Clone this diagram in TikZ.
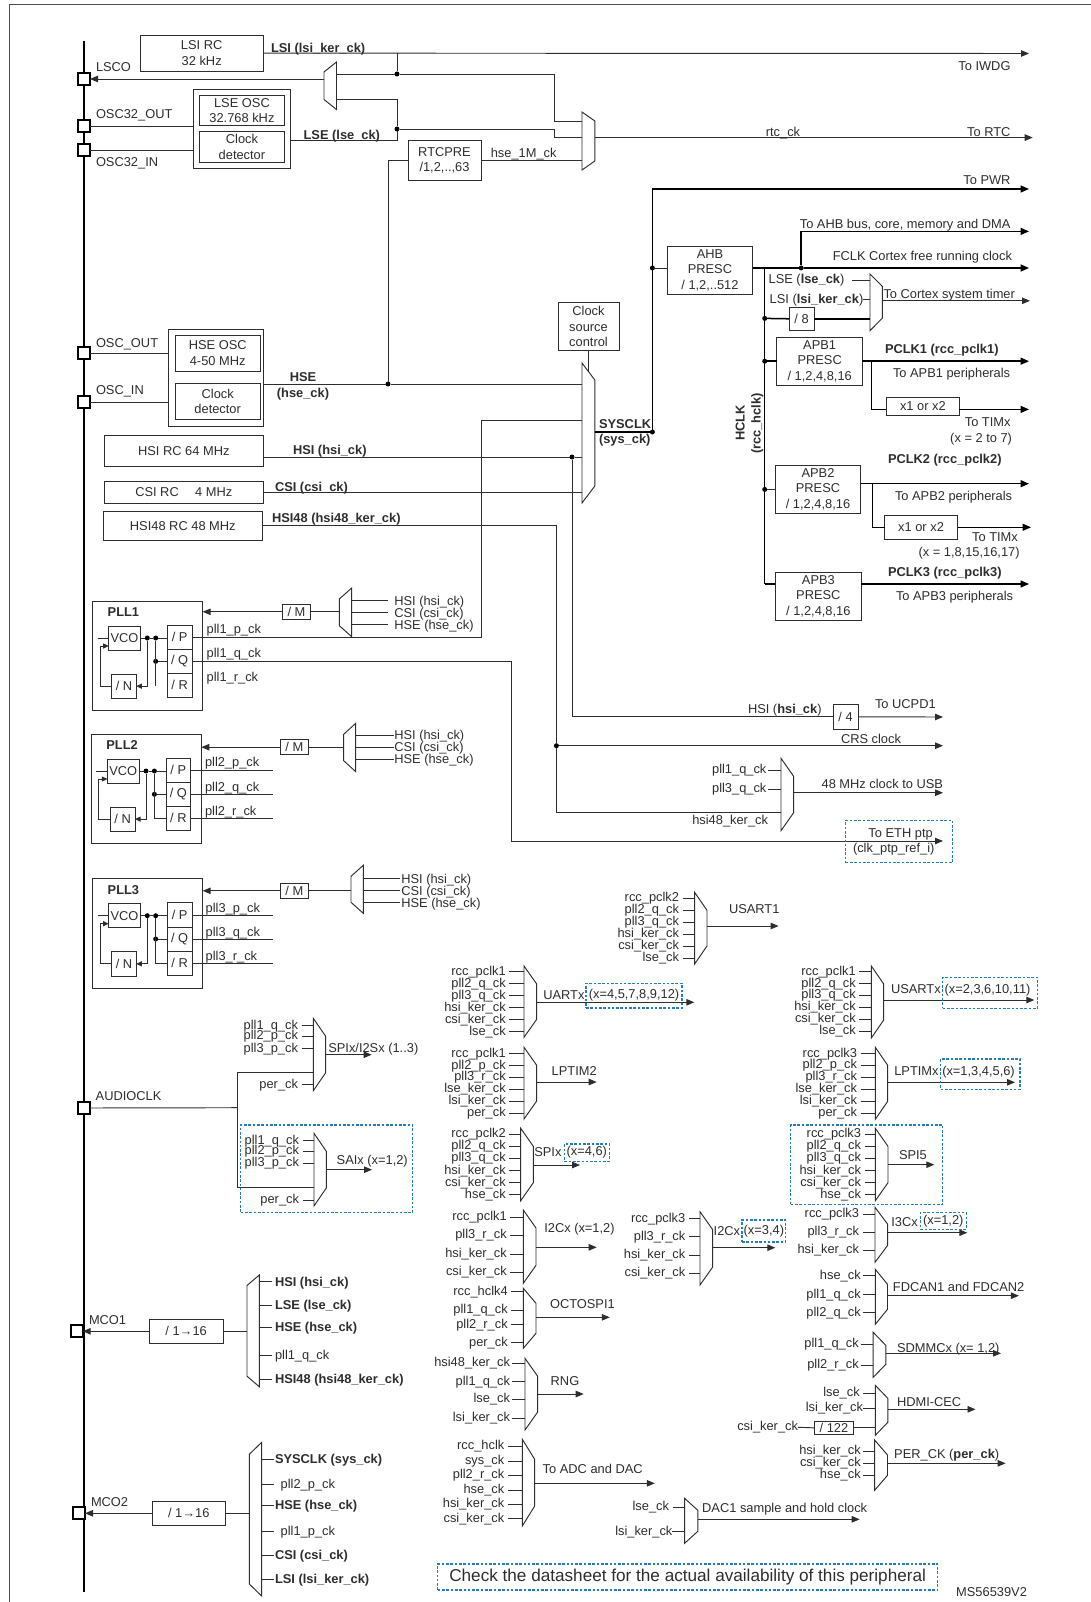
\documentclass[tikz,border=0pt]{standalone}
\usepackage{fontspec}
\setmainfont{Liberation Sans}
\usetikzlibrary{arrows.meta,calc}
\AtBeginDocument{\catcode`\_=12 }
\definecolor{ink}{RGB}{45,45,45}
\definecolor{stblue}{RGB}{35,125,190}
\newcommand\fs{\fontsize{12.85}{15.5}\selectfont}
\newcounter{lbn}
\tikzset{
  ln/.style={draw=ink,line width=0.95pt,line join=miter},
  thk/.style={draw=black,line width=1.5pt},
  arr/.style={ln,-{Triangle[length=8pt,width=6.5pt]}},
  thkarr/.style={thk,-{Triangle[length=8.5pt,width=7pt]}},
  smallarr/.style={ln,-{Triangle[length=5.5pt,width=5pt]}},
  boxn/.style={draw=ink,line width=0.95pt,inner sep=0pt,outer sep=0pt,align=center,font=\fs,text=ink},
  dashbox/.style={draw=stblue,line width=1.25pt,dash pattern=on 2.6pt off 1.7pt,inner sep=0pt,outer sep=0pt,align=center,font=\fs,text=ink},
  lbl/.style={inner sep=0pt,outer sep=0pt,font=\fs,text=ink,text height=9.5pt,text depth=2.5pt},
  pinbox/.style={draw=black,line width=1.7pt,fill=white,inner sep=0pt,outer sep=0pt,minimum size=12pt},
  dot/.style={circle,fill=black,inner sep=0pt,outer sep=0pt,minimum size=5pt},
}
\newcommand\bx[6]{\pgfmathsetmacro\bw{#4-#2}\pgfmathsetmacro\bh{#5-#3}%
  \node[boxn,minimum width=\bw pt,minimum height=\bh pt,anchor=north west] (#1) at (#2,#3) {#6};}
\newcommand\dbx[6]{\pgfmathsetmacro\bw{#4-#2}\pgfmathsetmacro\bh{#5-#3}%
  \node[dashbox,minimum width=\bw pt,minimum height=\bh pt,anchor=north west] (#1) at (#2,#3) {#6};}
\newcommand\lb[4]{\stepcounter{lbn}\node[lbl,anchor=#3,yshift=-1pt] (t\arabic{lbn}) at (#1,#2) {#4};}
\newcommand\blb[4]{\lb{#1}{#2}{#3}{\bfseries #4}}
\newcommand\mux[7]{\pgfmathsetmacro\mw{#3-#2}\pgfmathsetmacro\mh{#5-#4}%
  \node[inner sep=0pt,outer sep=0pt,minimum width=\mw pt,minimum height=\mh pt,anchor=north west] (#1) at (#2,#4) {};
  \draw[ln] (#2,{#4+#6}) -- (#3,{#4+#7}) -- (#3,{#5-#7}) -- (#2,{#5-#6}) -- cycle;}
% inputs on the west side: mux, right end of text, gap, list y/text
\newcommand\inputs[4]{\foreach \yy/\txt [count=\ii] in {#4}{%
  \node[lbl,anchor=east] (#1i\ii) at (#2,\yy) {\txt};
  \draw[ln] ([xshift=#3pt]#1i\ii.east) -- (#1.west |- #1i\ii.east);}}
% inputs on the east side: mux, left of text, gap, list y/text
\newcommand\rinputs[4]{\foreach \yy/\txt [count=\ii] in {#4}{%
  \coordinate (#1c\ii) at (#2,\yy);
  \node[lbl,anchor=west,yshift=-1pt] (#1i\ii) at (#1c\ii) {\txt};
  \draw[ln] (#1.east |- #1c\ii) -- ([xshift=-#3pt]#1c\ii);}}
\newcommand\outp[3]{\coordinate (#1e) at (#3,#2); \draw[arr] (#1.east |- #1e) -- (#1e);}
\newcommand\pllblock[5]{%
\begin{scope}[shift={(#2,#3)}]
  \bx{#1b}{92.7}{601}{202.7}{710.7}{}
  \blb{107.7}{612}{west}{#4}
  \bx{#1v}{108.7}{626}{140.3}{650}{VCO}
  \bx{#1P}{167.3}{625}{192}{649.3}{/ P}
  \bx{#1Q}{167.3}{649.3}{192}{673.3}{/ Q}
  \bx{#1R}{167.3}{673.3}{192}{697.3}{/ R}
  \bx{#1N}{111.7}{674}{136.3}{698.3}{/ N}
  \node[dot] (#1d1) at (147.3,638) {};
  \node[dot] (#1d2) at (155.7,638) {};
  \node[dot] (#1d3) at (155.7,661.3) {};
  \coordinate (#1s) at (97.7,638);
  \coordinate (#1f) at (100,646);
  \draw[ln] (#1s) -- (#1s -| #1v.west);
  \draw[ln] (#1d1 -| #1v.east) -- (#1d1) -- (#1d2) -- (#1d2 -| #1P.west);
  \draw[smallarr] (#1d1) |- (#1N.east);
  \draw[smallarr] (#1N.west) -| (#1f) -- (#1f -| #1v.west);
  \draw[ln] (#1d3) -- (#1Q.west);
  #5
\end{scope}}
\begin{document}
\begin{tikzpicture}[x=1pt,y=-1pt]
\useasboundingbox (0,0) rectangle (1091,1602);
% frame and pad bus
\coordinate (fa) at (9.3,1602); \coordinate (fb) at (9.3,4.5); \coordinate (fc) at (1091,4.5);
\draw[draw=ink!85,line width=1.2pt] (fa) -- (fb) -- (fc);
\coordinate (busa) at (84.3,41); \coordinate (busb) at (84.3,1592);
\draw[draw=black,line width=1.8pt] (busa) -- (busb);
% pads
\node[pinbox] (pLSCO) at (84,79) {};
\node[pinbox] (pO32O) at (84,126) {};
\node[pinbox] (pO32I) at (84,150) {};
\node[pinbox] (pOO) at (84,353.3) {};
\node[pinbox] (pOI) at (84,402) {};
\node[pinbox] (pAUD) at (83.7,1108) {};
\node[pinbox] (pMCO1) at (76.7,1331.3) {};
\node[pinbox] (pMCO2) at (79,1513.3) {};
\lb{96}{67.2}{west}{LSCO}
\lb{96}{114.3}{west}{OSC32_OUT}
\lb{96}{162.2}{west}{OSC32_IN}
\lb{96}{342.7}{west}{OSC_OUT}
\lb{96}{389.5}{west}{OSC_IN}
\lb{95.7}{1096}{west}{AUDIOCLK}
\lb{89}{1319.8}{west}{MCO1}
\lb{91}{1502.2}{west}{MCO2}
% sources
\bx{lsirc}{140.4}{35}{263}{71.3}{LSI RC\\32 kHz}
\bx{lseout}{193}{89.5}{290.7}{168.4}{}
\bx{lseosc}{199.3}{95}{284.6}{125.7}{LSE OSC\\32.768 kHz}
\bx{lsedet}{199.3}{131.5}{284.6}{162.2}{Clock\\detector}
\bx{hseout}{168.6}{329}{263}{426}{}
\bx{hseosc}{175}{335}{260.4}{371.6}{HSE OSC\\4-50 MHz}
\bx{hsedet}{175}{383.3}{260.4}{419.8}{Clock\\detector}
\bx{hsirc}{104.6}{435.6}{263}{466}{HSI RC 64 MHz}
\bx{csirc}{104.6}{481.4}{263}{503}{CSI RC\hspace{1em} 4 MHz}
\bx{hsi48rc}{103.6}{511.7}{262}{540}{HSI48 RC 48 MHz}
\bx{rtcpre}{408}{140.8}{481}{180}{RTCPRE\\/1,2,..,63}
\bx{csc}{558}{302.4}{619}{350.6}{Clock\\source\\control}
% pad connections
\draw[ln] (pO32O) -- (pO32O -| lseout.west);
\draw[ln] (pO32I) -- (pO32I -| lseout.west);
\draw[ln] (pOO) -- (pOO -| hseout.west);
\draw[ln] (pOI) -- (pOI -| hseout.west);
% LSCO mux
\mux{lscom}{324}{336.5}{62}{109.5}{10}{0}
\draw[arr] (lscom.west |- pLSCO) -- (pLSCO.east);
\coordinate (iwdg) at (1029,53.5);
\draw[arr] (lsirc.east) -- (iwdg);
\coordinate (lsiT) at (397,53.5);
\node[dot] (jA) at (397,74) {};
\node[dot] (jB) at (397,129) {};
\coordinate (lseT) at (397,140.5);
\coordinate (lseL) at (397,99);
\draw[ln] (lsiT) -- (jA);
\draw[ln] (lscom.east |- jA) -- (jA);
\draw[ln] (lseout.east |- lseT) -- (lseT) -- (jB) -- (lseL) -- (lscom.east |- lseL);
% RTC mux
\mux{rtcm}{582}{594.8}{112}{170}{0}{9}
\coordinate (ra) at (554.6,121.6); \coordinate (rb) at (554.6,137.6);
\draw[ln] (jA) -| (ra) -- (ra -| rtcm.west);
\draw[ln] (jB) -| (rb) -- (rb -| rtcm.west);
\draw[ln] (rtcpre.east) -- (rtcm.west |- rtcpre.east);
\coordinate (rtcend) at (1032.7,137.6);
\draw[arr] (rtcm.east |- rtcend) -- (rtcend);
\lb{783}{132.5}{center}{rtc_ck}
\lb{1010.5}{132}{east}{To RTC}
\lb{1010.5}{65.7}{east}{To IWDG}
\blb{271}{47.7}{west}{LSI (lsi_ker_ck)}
\blb{303.6}{135.3}{west}{LSE (lse_ck)}
\lb{523.7}{153.2}{center}{hse_1M_ck}
% system mux
\mux{sysm}{582}{594.8}{363}{503}{0}{17}
\node[dot] (jH) at (388,384) {};
\draw[ln] (hseout.east |- jH) -- (jH) -- (jH -| sysm.west);
\draw[ln] (jH) |- (rtcpre.west);
\node[dot] (jI) at (572,457) {};
\draw[ln] (hsirc.east |- jI) -- (jI) -- (jI -| sysm.west);
\draw[ln] (csirc.east) -- (sysm.west |- csirc.east);
\coordinate (cscend) at (588.3,371.6);
\draw[ln] (csc.south -| cscend) -- (cscend);
\blb{303}{377.4}{center}{HSE}
\blb{303}{392.7}{center}{(hse_ck)}
\blb{293}{450.1}{west}{HSI (hsi_ck)}
\blb{275}{487.3}{west}{CSI (csi_ck)}
\blb{272}{518.2}{west}{HSI48 (hsi48_ker_ck)}
\blb{599}{424.2}{west}{SYSCLK}
\blb{599}{439.3}{west}{(sys_ck)}
% SYSCLK tree
\node[dot] (jS) at (652.4,432) {};
\node[dot] (jAH) at (652.4,268) {};
\coordinate (pwr) at (1029,189);
\bx{ahb}{667.4}{246}{752.5}{294.3}{AHB\\PRESC\\/ 1,2,..512}
\draw[thk] (sysm.east |- jS) -- (jS);
\draw[thkarr] (jS) |- (pwr);
\draw[ln] (jAH) -- (jAH -| ahb.west);
\node[dot] (jF) at (801.2,268) {};
\coordinate (fclk) at (1029,268);
\coordinate (ahbe) at (1029,231.4);
\draw[thk] (jF -| ahb.east) -- (jF);
\draw[thkarr] (jF) -- (fclk);
\draw[thkarr] (jF) |- (ahbe);
\lb{1010.5}{180}{east}{To PWR}
\lb{1010.5}{224.5}{east}{To AHB bus, core, memory and DMA}
\lb{1012}{256.5}{east}{FCLK Cortex free running clock}
% HCLK
\coordinate (h0) at (764.7,268); \coordinate (hend) at (764.7,584);
\node[dot] (h8) at (764.7,318.4) {};
\node[dot] (h1) at (764.7,361.2) {};
\node[dot] (h2) at (764.7,489.4) {};
\draw[thk] (h0) -- (hend);
\node[lbl,rotate=90,font=\fs\bfseries] (hclka) at (741,423) {HCLK};
\node[lbl,rotate=90,font=\fs\bfseries] (hclkb) at (757,423.5) {(rcc_hclk)};
% systick
\mux{stm}{870}{882.4}{274}{330.6}{0}{12.5}
\bx{d8}{789}{307}{814}{330.6}{/ 8}
\draw[thk] (h8) -- (d8.west);
\draw[thk] (d8.east) -- (d8.east -| stm.west);
\node[lbl,anchor=west] (lsel) at (768.6,280.5) {LSE (\textbf{lse_ck})};
\node[lbl,anchor=west] (lsil) at (769.7,299.9) {LSI (\textbf{lsi_ker_ck})};
\draw[ln] ([xshift=8pt]lsel.east) -- (lsel.east -| stm.west);
\draw[ln] (lsil.east) -- (lsil.east -| stm.west);
\coordinate (ste) at (1030,300.8);
\draw[arr] (stm.east |- ste) -- (ste);
\lb{883.5}{294.3}{west}{To Cortex system timer}
% APB1
\bx{apb1}{776.9}{337}{862.4}{385.3}{APB1\\PRESC\\/ 1,2,4,8,16}
\draw[thk] (h1) -- (apb1.west |- h1);
\coordinate (o1) at (1029,361.2); \coordinate (b1) at (871.3,361.2); \coordinate (e1) at (1029,409.4);
\draw[thkarr] (apb1.east |- o1) -- (o1);
\bx{x1}{886.4}{397.6}{959.3}{415.5}{x1 or x2}
\draw[thk] (b1) |- (x1.west |- e1);
\draw[thkarr] (x1.east |- e1) -- (e1);
\blb{885}{349}{west}{PCLK1 (rcc_pclk1)}
\lb{893}{373}{west}{To APB1 peripherals}
\lb{1010.5}{421.6}{east}{To TIMx}
\lb{1012}{437.5}{east}{(x = 2 to 7)}
% APB2
\bx{apb2}{775.4}{465}{860.6}{513}{APB2\\PRESC\\/ 1,2,4,8,16}
\draw[ln] (h2) -- (apb2.west |- h2);
\coordinate (o2) at (1029,483.7); \coordinate (b2) at (872.4,483.7); \coordinate (e2) at (1031,527.3);
\draw[thkarr] (apb2.east |- o2) -- (o2);
\bx{x2}{884.6}{515}{957.5}{539.6}{x1 or x2}
\draw[thk] (b2) |- (x2.west |- e2);
\draw[thkarr] (x2.east |- e2) -- (e2);
\blb{888}{459.3}{west}{PCLK2 (rcc_pclk2)}
\lb{895}{496}{west}{To APB2 peripherals}
\lb{995}{537}{center}{To TIMx}
\lb{1019.6}{552}{east}{(x = 1,8,15,16,17)}
% APB3
\bx{apb3}{775.4}{572}{861.3}{620}{APB3\\PRESC\\/ 1,2,4,8,16}
\coordinate (o3) at (1029,584);
\draw[thk] (hend) -- (apb3.west |- hend);
\draw[thkarr] (apb3.east |- o3) -- (o3);
\blb{888}{571.9}{west}{PCLK3 (rcc_pclk3)}
\lb{896}{595.5}{west}{To APB3 peripherals}
% PLLs
\pllblock{pa}{0}{0}{PLL1}{\draw[ln] (pad2) -- (155.7,686);}
\pllblock{pb}{-1.3}{133}{PLL2}{\draw[ln] (pbd2) |- (pbR.west);}
\pllblock{pc}{0}{277.7}{PLL3}{\draw[ln] (pcd2) |- (pcR.west);}
% PLL1 prescaler
\bx{ma}{282.3}{604.3}{310.7}{619.3}{/ M}
\mux{mma}{339.3}{351.7}{588}{636.7}{11}{0}
\draw[ln] (ma.east) -- (ma.east -| mma.west);
\draw[arr] (ma.west) -- (ma.west -| pab.east);
\rinputs{mma}{394.3}{6}{600.7/HSI (hsi_ck),612.7/CSI (csi_ck),624.7/HSE (hse_ck)}
\lb{206.7}{629.3}{west}{pll1_p_ck}
\lb{206.7}{653.3}{west}{pll1_q_ck}
\lb{206.7}{677.3}{west}{pll1_r_ck}
\coordinate (pla) at (481.4,420.4);
\draw[ln] (paP.east) -| (pla) -- (pla -| sysm.west);
\coordinate (plb) at (511.3,841);
\coordinate (eth) at (943,841);
\draw[ln] (paQ.east) -| (plb);
\draw[arr] (plb) -- (eth);
% PLL2
\bx{mb}{280}{739.7}{308.7}{754.7}{/ M}
\mux{mmb}{343.7}{355.7}{723.3}{771.7}{11}{0}
\draw[ln] (mb.east) -- (mb.east -| mmb.west);
\draw[arr] (mb.west) -- (mb.west -| pbb.east);
\rinputs{mmb}{394.3}{0.5}{735/HSI (hsi_ck),747/CSI (csi_ck),759/HSE (hse_ck)}
\lb{205}{762}{west}{pll2_p_ck}
\lb{205}{787}{west}{pll2_q_ck}
\lb{205}{811}{west}{pll2_r_ck}
\coordinate (pbp) at (272.7,770.7); \coordinate (pbq) at (272.7,794.7); \coordinate (pbr) at (272.7,818.7);
\draw[ln] (pbp -| pbP.east) -- (pbp);
\draw[ln] (pbq -| pbQ.east) -- (pbq);
\draw[ln] (pbr -| pbR.east) -- (pbr);
% PLL3
\bx{mc}{280}{883.3}{308.7}{898.3}{/ M}
\mux{mmc}{351}{363.3}{865.3}{913.3}{11}{0}
\draw[ln] (mc.east) -- (mc.east -| mmc.west);
\draw[arr] (mc.west) -- (mc.west -| pcb.east);
\rinputs{mmc}{401.3}{1}{878.7/HSI (hsi_ck),890.7/CSI (csi_ck),902.7/HSE (hse_ck)}
\lb{205.7}{907.7}{west}{pll3_p_ck}
\lb{205.7}{931.7}{west}{pll3_q_ck}
\lb{205.7}{955.7}{west}{pll3_r_ck}
\coordinate (pcp) at (273.3,915); \coordinate (pcq) at (273.3,939); \coordinate (pcr) at (273.3,963);
\draw[ln] (pcp -| pcP.east) -- (pcp);
\draw[ln] (pcq -| pcQ.east) -- (pcq);
\draw[ln] (pcr -| pcR.east) -- (pcr);
% HSI /4, CRS, USB, ETH
\bx{d4}{833}{704.7}{858}{729}{/ 4}
\draw[ln] (jI) |- (d4.west);
\coordinate (ucpd) at (943,717);
\draw[arr] (d4.east) -- (ucpd);
\node[lbl,anchor=west] (hsil) at (748,709.8) {HSI (\textbf{hsi_ck})};
\lb{875}{704}{west}{To UCPD1}
\node[dot] (jC) at (556.4,745.7) {};
\coordinate (crs) at (943,745.7);
\draw[arr] (jC) -- (crs);
\lb{841}{739}{west}{CRS clock}
\mux{usbm}{781}{793.6}{758.3}{830.7}{0}{18}
\coordinate (usbi) at (781,812.7);
\coordinate (h48a) at (556.4,525);
\draw[ln] (hsi48rc.east |- h48a) -- (h48a) -- (jC) |- (usbi);
\inputs{usbm}{766.4}{1.5}{770/pll1_q_ck,789.3/pll3_q_ck}
\lb{768}{820}{east}{hsi48_ker_ck}
\outp{usbm}{792.7}{943}
\lb{943}{784}{east}{48 MHz clock to USB}
\dbx{ethb}{845.7}{820.3}{952.5}{862.7}{}
\lb{900.6}{832.7}{center}{To ETH ptp}
\lb{893.7}{848}{center}{(clk_ptp_ref_i)}
% USART1
\mux{u1}{694.6}{707}{892.3}{964}{0}{18}
\inputs{u1}{679}{3.5}{898.3/rcc_pclk2,910.3/pll2_q_ck,922/pll3_q_ck,934/hsi_ker_ck,946/csi_ker_ck,958/lse_ck}
\outp{u1}{926}{778.6}
\lb{729}{909.3}{west}{USART1}
% UARTx
\mux{ux}{524}{536.7}{966}{1037.3}{0}{18}
\inputs{ux}{505.7}{3.5}{971.7/rcc_pclk1,983.7/pll2_q_ck,995.5/pll3_q_ck,1007.7/hsi_ker_ck,1019.7/csi_ker_ck,1031.7/lse_ck}
\outp{ux}{1002.3}{694.3}
\lb{543.3}{995}{west}{UARTx}
\dbx{uxb}{586}{983.3}{682}{1008}{(x=4,5,7,8,9,12)}
% LPTIM2
\mux{lp2}{524}{536.7}{1047.3}{1119}{0}{18}
\inputs{lp2}{505.7}{3.5}{1053.7/rcc_pclk1,1065.7/pll2_p_ck,1077.3/pll3_r_ck,1089.3/lse_ker_ck,1101.3/lsi_ker_ck,1113.3/per_ck}
\outp{lp2}{1082}{596.7}
\lb{551.7}{1071}{west}{LPTIM2}
% SPIx
\mux{spx}{520.7}{533.3}{1128.3}{1200.7}{0}{18}
\inputs{spx}{505.7}{3.5}{1134.3/rcc_pclk2,1146/pll2_q_ck,1158/pll3_q_ck,1170.7/hsi_ker_ck,1182.7/csi_ker_ck,1194.7/hse_ck}
\outp{spx}{1165}{580}
\lb{534.3}{1151.7}{west}{SPIx}
\dbx{spb}{564.3}{1144}{609.3}{1161.3}{(x=4,6)}
% I2Cx 1,2
\mux{ica}{523.3}{536}{1210}{1283.3}{0}{18}
\inputs{ica}{506.7}{3.5}{1217.3/rcc_pclk1,1235.3/pll3_r_ck,1254/hsi_ker_ck,1272/csi_ker_ck}
\outp{ica}{1247.3}{596.7}
\lb{544.3}{1228}{west}{I2Cx (x=1,2)}
% OCTOSPI
\mux{oct}{523.3}{536}{1288.3}{1348.3}{0}{15}
\inputs{oct}{507.7}{3.5}{1291.7/rcc_hclk4,1310/pll1_q_ck,1324.7/pll2_r_ck,1342.7/per_ck}
\outp{oct}{1317.3}{609.8}
\lb{550}{1303.7}{west}{OCTOSPI1}
% RNG
\mux{rng}{525}{537.7}{1358.3}{1430}{0}{18}
\inputs{rng}{510}{2}{1363.3/hsi48_ker_ck,1381.7/pll1_q_ck,1399.3/lse_ck,1418/lsi_ker_ck}
\outp{rng}{1394}{583.7}
\lb{550.7}{1381}{west}{RNG}
% ADC
\mux{adc}{522.3}{534.7}{1439.3}{1526}{0}{20}
\inputs{adc}{504.3}{3.5}{1446/rcc_hclk,1461.3/sys_ck,1475/pll2_r_ck,1490/hse_ck,1504/hsi_ker_ck,1518.7/csi_ker_ck}
\outp{adc}{1483.3}{654.8}
\lb{542.7}{1469}{west}{To ADC and DAC}
% I2Cx 3,4
\mux{icb}{700}{712.7}{1211.7}{1285}{0}{18}
\inputs{icb}{685.3}{3.5}{1218.7/rcc_pclk3,1236.7/pll3_r_ck,1255.3/hsi_ker_ck,1273.3/csi_ker_ck}
\outp{icb}{1247.7}{775.3}
\lb{713.7}{1230.7}{west}{I2Cx}
\dbx{icbb}{742}{1220}{785.7}{1242}{(x=3,4)}
% USARTx
\mux{usx}{871.3}{883.7}{966}{1038}{0}{18}
\inputs{usx}{855.7}{3.5}{971.7/rcc_pclk1,983.7/pll2_q_ck,995.3/pll3_q_ck,1007.3/hsi_ker_ck,1019.3/csi_ker_ck,1031.3/lse_ck}
\outp{usx}{1000}{1034.3}
\lb{891}{989.3}{west}{USARTx}
\dbx{usb}{942.7}{977.3}{1037.3}{1008.3}{}
\lb{987.5}{989.3}{center}{(x=2,3,6,10,11)}
% LPTIMx
\mux{lpx}{875.3}{887.7}{1047.3}{1119.3}{0}{18}
\inputs{lpx}{857}{3.5}{1053.7/rcc_pclk3,1065.3/pll2_p_ck,1077/pll3_r_ck,1089/lse_ker_ck,1101/lsi_ker_ck,1113/per_ck}
\outp{lpx}{1082.3}{1015}
\lb{894.3}{1071}{west}{LPTIMx}
\dbx{lpb}{940.7}{1059}{1020}{1089.3}{}
\lb{978.5}{1071}{center}{(x=1,3,4,5,6)}
% SPI5
\dbx{s5b}{790.7}{1125}{942.7}{1204.3}{}
\mux{s5}{875.3}{888}{1128.3}{1200.7}{0}{18}
\inputs{s5}{861}{3.5}{1134/rcc_pclk3,1146/pll2_q_ck,1158/pll3_q_ck,1170.7/hsi_ker_ck,1182.7/csi_ker_ck,1194.7/hse_ck}
\outp{s5}{1164.7}{934.3}
\lb{899}{1154.7}{west}{SPI5}
% I3Cx
\mux{i3}{875}{887.7}{1207.3}{1262.3}{0}{17}
\inputs{i3}{859}{3.5}{1214/rcc_pclk3,1232/pll3_r_ck,1250/hsi_ker_ck}
\outp{i3}{1232.7}{967.3}
\lb{891.3}{1221.7}{west}{I3Cx}
\dbx{i3b}{920.3}{1212.7}{966.3}{1229.3}{(x=1,2)}
% FDCAN
\mux{fd}{875.3}{887.5}{1269.3}{1324.3}{0}{15}
\inputs{fd}{860.7}{2}{1275.7/hse_ck,1294.7/pll1_q_ck,1312.7/pll2_q_ck}
\outp{fd}{1295.7}{1018.9}
\lb{892.9}{1287.3}{west}{FDCAN1 and FDCAN2}
% SDMMC
\mux{sd}{873.2}{885.8}{1332.3}{1377.3}{0}{13}
\inputs{sd}{858.7}{2}{1344/pll1_q_ck,1365.3/pll2_r_ck}
\outp{sd}{1353.3}{1001}
\lb{897}{1347.7}{west}{SDMMCx (x= 1,2)}
% HDMI
\mux{hd}{875.3}{887.8}{1385.3}{1435.3}{0}{13}
\inputs{hd}{859.7}{3.5}{1393.3/lse_ck}
\node[lbl,anchor=east] (hdl) at (863,1408.3) {lsi_ker_ck};
\draw[ln] (hdl.east) -- (hdl.east -| hd.west);
\bx{d122}{814.7}{1421}{853.3}{1434.7}{/ 122}
\node[lbl,anchor=east] (hdc) at (798,1427.3) {csi_ker_ck};
\draw[ln] (hdc.east) -- (d122.west);
\draw[ln] (d122.east) -- (d122.east -| hd.west);
\outp{hd}{1409.3}{975.5}
\lb{897}{1402.3}{west}{HDMI-CEC}
% PER_CK
\mux{pr}{874.6}{887.5}{1440}{1490.3}{0}{15}
\inputs{pr}{860.7}{2.5}{1451.3/hsi_ker_ck,1463.3/csi_ker_ck,1475.3/hse_ck}
\outp{pr}{1463.3}{1005.6}
\node[lbl,anchor=west] (prl) at (894.2,1454.8) {PER_CK (\textbf{per_ck})};
% DAC1
\mux{dc}{684.6}{697.8}{1498.3}{1543.3}{0}{12}
\inputs{dc}{669}{3.5}{1507/lse_ck}
\node[lbl,anchor=east] (dcl) at (672.4,1531.7) {lsi_ker_ck};
\draw[ln] (dcl.east) -- (dcl.east -| dc.west);
\outp{dc}{1519.3}{859.7}
\lb{702.2}{1507.7}{west}{DAC1 sample and hold clock}
% SPI/I2S and SAI
\mux{sp}{313.3}{325.7}{1018.3}{1090.7}{0}{18}
\inputs{sp}{298}{3.5}{1025.5/pll1_q_ck,1036.4/pll2_p_ck,1048.5/pll3_p_ck,1084.5/per_ck}
\outp{sp}{1054.7}{371.7}
\lb{328.3}{1048.3}{west}{SPIx/I2Sx (1..3)}
\dbx{saib}{240.7}{1125}{412.7}{1212.7}{}
\mux{sai}{314}{326.3}{1133.3}{1206}{0}{18}
\inputs{sai}{299}{3.5}{1140.5/pll1_q_ck,1151.2/pll2_p_ck,1163.2/pll3_p_ck,1200/per_ck}
\outp{sai}{1169.7}{372}
\lb{336.7}{1160}{west}{SAIx (x=1,2)}
\coordinate (auda) at (237.7,1107.7);
\coordinate (audb) at (237.7,1072.3);
\coordinate (audc) at (237.7,1187.3);
\draw[ln] (pAUD) -- (auda);
\draw[ln] (sp.west |- audb) -- (audb) -- (audc) -- (sai.west |- audc);
% MCO1
\bx{dm1}{149.3}{1319.3}{223}{1343.3}{/ 1→16}
\mux{m1}{247}{259.3}{1275}{1386.7}{10.5}{0}
\draw[ln] (dm1.east) -- (dm1.east -| m1.west);
\draw[arr] (dm1.west) -- (pMCO1.east);
\rinputs{m1}{275}{3}{1281.7/\bfseries HSI (hsi_ck),1305/\bfseries LSE (lse_ck),1327/\bfseries HSE (hse_ck),1355/pll1_q_ck,1379.3/\bfseries HSI48 (hsi48_ker_ck)}
% MCO2
\bx{dm2}{152.3}{1501.3}{225.3}{1525.3}{/ 1→16}
\mux{m2}{249.3}{261.7}{1442.3}{1596}{12}{0}
\draw[ln] (dm2.east) -- (dm2.east -| m2.west);
\draw[arr] (dm2.west) -- (pMCO2.east);
\foreach \yy/\txt/\xx [count=\ii] in {1459/\bfseries SYSCLK (sys_ck)/275,1484/pll2_p_ck/280.7,1505/\bfseries HSE (hse_ck)/275,1531/pll1_p_ck/280.7,1555/\bfseries CSI (csi_ck)/275,1579/\bfseries LSI (lsi_ker_ck)/275}{%
  \node[lbl,anchor=west,yshift=-1pt] (m2i\ii) at (\xx,\yy) {\txt};
  \coordinate (m2x\ii) at (274.3,\yy);
  \draw[ln] (m2.east |- m2x\ii) -- (m2x\ii);}
% footer
\dbx{note}{437.7}{1564}{937.6}{1590}{\fontsize{17.15}{20}\selectfont Check the datasheet for the actual availability of this peripheral}
\lb{956.2}{1591.7}{west}{MS56539V2}
\end{tikzpicture}
\end{document}
